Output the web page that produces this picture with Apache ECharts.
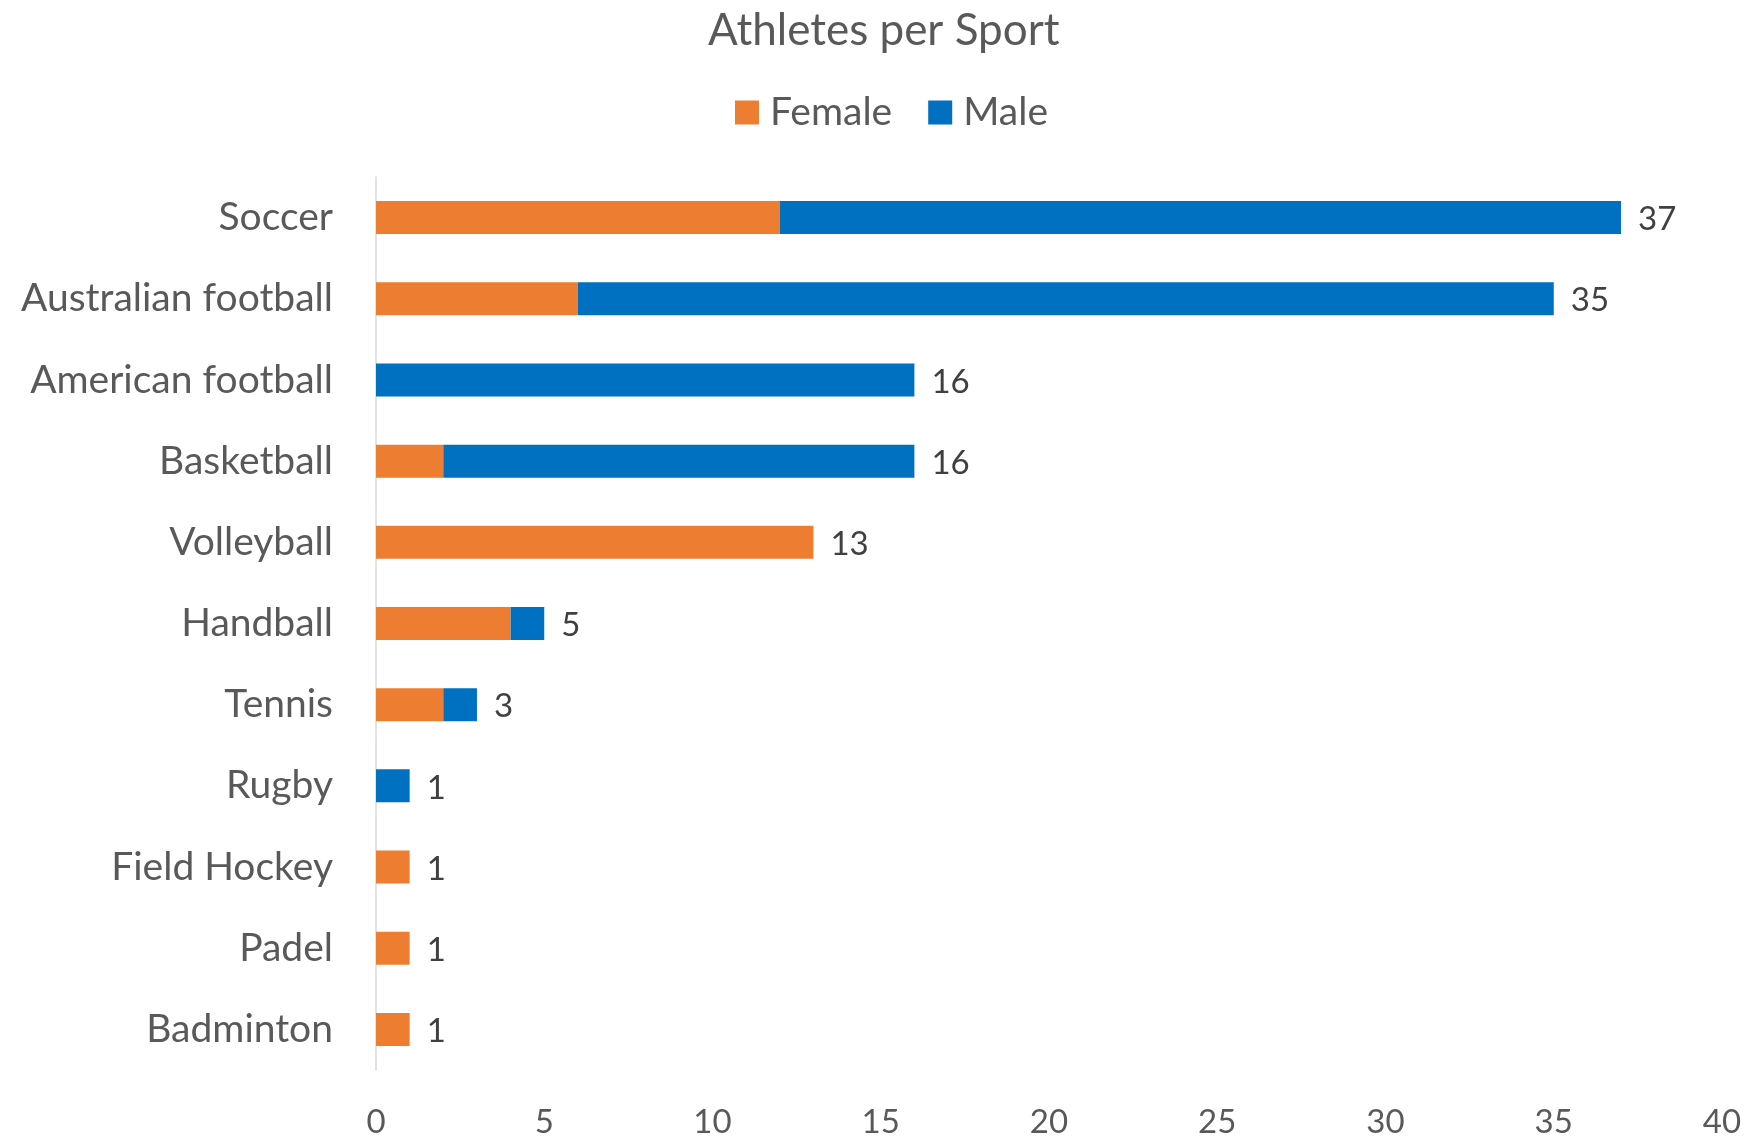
<!DOCTYPE html>
<html>
<head>
<meta charset="utf-8">
<script src="https://cdn.jsdelivr.net/npm/echarts@6/dist/echarts.min.js"></script>
<style>
  html, body { margin: 0; padding: 0; background: #fff; }
  #chart { width: 1747px; height: 1139px; }
</style>
</head>
<body>
<div id="chart"></div>
<script>
// 数据
const sports = ['Soccer', 'Australian football', 'American football', 'Basketball', 'Volleyball',
  'Handball', 'Tennis', 'Rugby', 'Field Hockey', 'Padel', 'Badminton']
const female = [12, 6, 0, 2, 13, 4, 2, 0, 1, 1, 1]
const male = [25, 29, 16, 14, 0, 1, 1, 1, 0, 0, 0]
const totals = [37, 35, 16, 16, 13, 5, 3, 1, 1, 1, 1]
const xTicks = [0, 5, 10, 15, 20, 25, 30, 35, 40]

const font = 'Lato, "Open Sans", sans-serif'
const textColor = '#595959'

let chart = echarts.init(document.getElementById('chart'))

let option = {
  animation: false,
  title: {
    text: 'Athletes per Sport',
    left: 703,
    top: 4,
    textStyle: { fontFamily: font, fontSize: 44, fontWeight: 'normal', color: textColor }
  },
  legend: {
    data: ['Female', 'Male'],
    left: 730,
    top: 88,
    icon: 'rect',
    itemWidth: 24,
    itemHeight: 24,
    itemGap: 36,
    textStyle: { fontFamily: font, fontSize: 39, color: textColor, padding: [0, 0, 0, 6] }
  },
  grid: { left: 376, right: 25, top: 177, bottom: 63, containLabel: false },
  xAxis: {
    type: 'value',
    min: 0,
    max: 40,
    interval: 5,
    axisLine: { show: false },
    axisTick: { show: false },
    splitLine: { show: false },
    axisLabel: {
      margin: 36,
      fontFamily: font, fontSize: 33, color: textColor,
      formatter: v => xTicks.includes(v) ? String(v) : ''
    }
  },
  yAxis: {
    type: 'category',
    data: sports,
    inverse: true,
    axisLine: { show: true, lineStyle: { color: '#D9D9D9', width: 1.5 } },
    axisTick: { show: false },
    axisLabel: { margin: 43, fontFamily: font, fontSize: 39, color: textColor }
  },
  series: [
    {
      name: 'Female', type: 'bar', stack: 'all', data: female, barWidth: 33,
      itemStyle: { color: '#ED7D31' }
    },
    {
      name: 'Male', type: 'bar', stack: 'all', data: male, barWidth: 33,
      itemStyle: { color: '#0070C0' }
    },
    {
      // 总数标签
      name: 'Total', type: 'bar', data: totals, barWidth: 33, barGap: '-100%', z: 1,
      itemStyle: { color: 'rgba(0,0,0,0)' },
      silent: true,
      label: {
        show: true, position: 'right', distance: 17, offset: [0, 2],
        fontFamily: font, fontSize: 33, color: '#404040'
      }
    }
  ]
}

chart.setOption(option)
</script>
</body>
</html>
